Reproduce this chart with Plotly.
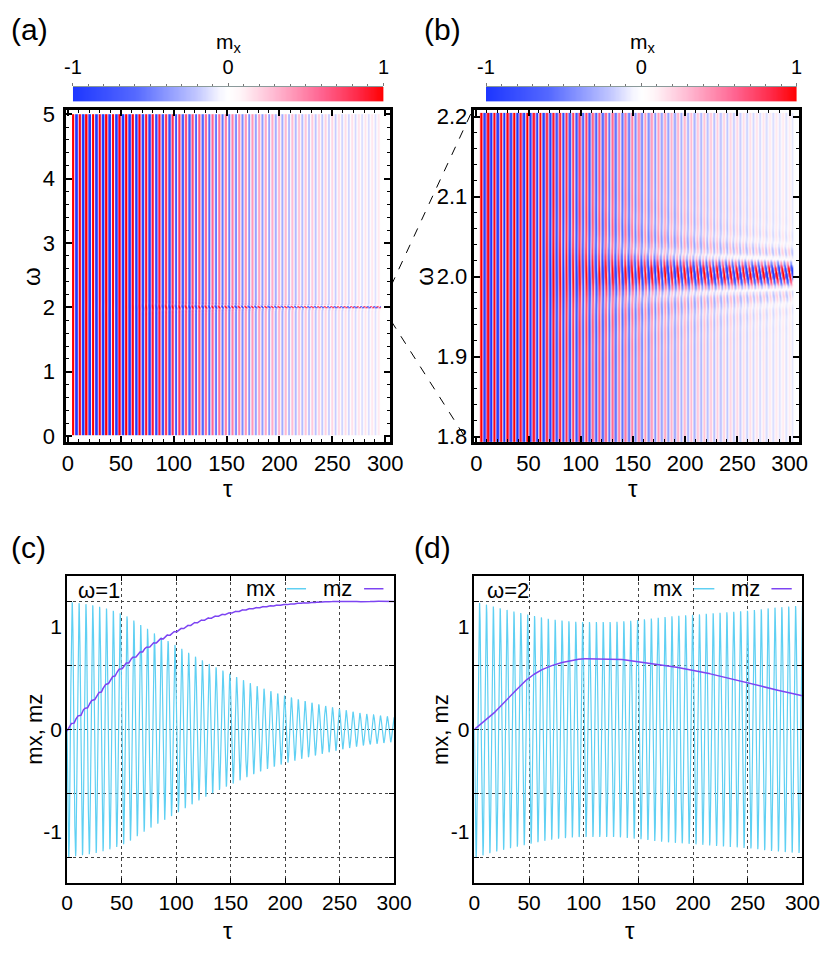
import numpy as np
import plotly.graph_objects as go

W, H = 832, 955
FONT = "Liberation Sans, Arial, Helvetica, sans-serif"

# ---------------- data ----------------
TAU_KNOTS = [0, 25, 50, 75, 100, 125, 150, 175, 200, 225, 250, 275, 300]
# panel (c): omega = 1
MX_ENV_W1 = [1.25, 1.21, 1.13, 0.97, 0.82, 0.67, 0.54, 0.42, 0.33, 0.26, 0.20, 0.15, 0.12]
MZ_W1 = [0.00, 0.30, 0.60, 0.81, 0.96, 1.07, 1.14, 1.19, 1.22, 1.24, 1.25, 1.25, 1.25]
MZ_RIPPLE_W1 = 0.015
# panel (d): omega = 2
MX_ENV_W2 = [1.25, 1.18, 1.12, 1.07, 1.05, 1.05, 1.07, 1.10, 1.12, 1.14, 1.16, 1.19, 1.21]
MZ_W2_TAU = [0, 15, 25, 35, 50, 62, 74, 85, 100, 125, 150, 175, 200, 225, 250, 275, 300]
MZ_W2 = [0.00, 0.13, 0.24, 0.35, 0.505, 0.585, 0.635, 0.665, 0.69, 0.69, 0.66, 0.625, 0.58, 0.52, 0.45, 0.39, 0.33]
CARRIER_FREQ = 1.0      # oscillation of mx in tau (period ~ 2*pi)
OMEGA_RES = 2.004       # resonance line in the maps
PHASE_TILT = 0.5        # stripe tilt inside the resonance band
FRINGE_DAMP = 40.0      # damping of the side fringes of the resonance band

# heat-map extents
MAP_A_TAU = (4.0, 296.0)
MAP_A_OMEGA = (0.02, 4.99)
MAP_B_TAU = (3.0, 303.0)
MAP_B_OMEGA = (1.79, 2.205)

# tick values / labels
TAU_TICKS = [0, 50, 100, 150, 200, 250, 300]
OMEGA_TICKS_B = [1.8, 1.9, 2.0, 2.1, 2.2]
OMEGA_TICKTEXT_B = ["1.8", "1.9", "2.0", "2.1", "2.2"]
MXZ_GRID = [-1.25, -0.625, 0, 0.625, 1.25]
MXZ_LABELS = [-1, 0, 1]
MXZ_LABEL_TEXT = ["-1", "0", "1"]
CB_TICKS = [-1, 0, 1]
CB_TICK_TEXT = ["-1", "0", "1"]

COLORSCALE = [
    [0.00, "rgb(30,55,255)"],
    [0.20, "rgb(85,105,255)"],
    [0.40, "rgb(195,200,255)"],
    [0.47, "rgb(245,245,255)"],
    [0.50, "rgb(255,255,255)"],
    [0.54, "rgb(255,245,248)"],
    [0.65, "rgb(255,185,210)"],
    [0.80, "rgb(255,100,145)"],
    [0.92, "rgb(255,40,70)"],
    [1.00, "rgb(255,0,0)"],
]
MX_COLOR = "#5fd0f3"
MZ_COLOR = "#7d44f2"


# ---------------- helpers ----------------
def pchip(xk, yk, x):
    xk = np.asarray(xk, float)
    yk = np.asarray(yk, float)
    h = np.diff(xk)
    d = np.diff(yk) / h
    m = np.zeros_like(yk)
    m[0], m[-1] = d[0], d[-1]
    for k in range(1, len(xk) - 1):
        if d[k - 1] * d[k] > 0:
            w1 = 2 * h[k] + h[k - 1]
            w2 = h[k] + 2 * h[k - 1]
            m[k] = (w1 + w2) / (w1 / d[k - 1] + w2 / d[k])
        else:
            m[k] = 0.0
    x = np.asarray(x, float)
    idx = np.clip(np.searchsorted(xk, x) - 1, 0, len(xk) - 2)
    t = (x - xk[idx]) / h[idx]
    h00 = 2 * t**3 - 3 * t**2 + 1
    h10 = t**3 - 2 * t**2 + t
    h01 = -2 * t**3 + 3 * t**2
    h11 = t**3 - t**2
    return h00 * yk[idx] + h10 * h[idx] * m[idx] + h01 * yk[idx + 1] + h11 * h[idx] * m[idx + 1]


def field(tau, om):
    T, O = np.meshgrid(tau, om)
    E = pchip(TAU_KNOTS, MX_ENV_W1, tau)[None, :]
    D = pchip(TAU_KNOTS, MX_ENV_W2, tau)[None, :]
    delta = O - OMEGA_RES
    x = delta * T / 2
    S = np.sinc(x / np.pi) * np.exp(-x**2 / FRINGE_DAMP)
    z = -(E * np.sin(CARRIER_FREQ * T)
          + (D - E) * S * np.sin(CARRIER_FREQ * T + PHASE_TILT * delta * T))
    return z.astype(np.float32)


def fx(px):
    return px / W


def fy(py):
    return 1 - py / H


def merge(*ds, **kw):
    out = {}
    for d in ds:
        out.update(d)
    out.update(kw)
    return out


# ---------------- build data ----------------
tau_line = np.arange(0, 300.0001, 0.05)
env1 = pchip(TAU_KNOTS, MX_ENV_W1, tau_line)
env2 = pchip(TAU_KNOTS, MX_ENV_W2, tau_line)
mx1 = -env1 * np.sin(CARRIER_FREQ * tau_line)
mx2 = -env2 * np.sin(CARRIER_FREQ * tau_line)
mz1 = pchip(TAU_KNOTS, MZ_W1, tau_line) - MZ_RIPPLE_W1 * (env1 / 1.25) * np.cos(CARRIER_FREQ * tau_line)
mz1[0] = 0.0
mz2 = pchip(MZ_W2_TAU, MZ_W2, tau_line)

tau_a = np.arange(MAP_A_TAU[0], MAP_A_TAU[1] + 1e-9, 0.3)
om_a = np.concatenate([
    np.arange(MAP_A_OMEGA[0], 1.85, 0.02),
    np.arange(1.85, 2.15, 0.002),
    np.arange(2.15, MAP_A_OMEGA[1] + 1e-9, 0.02),
])
z_a = field(tau_a, om_a)

tau_b = np.arange(MAP_B_TAU[0], MAP_B_TAU[1] + 1e-9, 0.3)
om_b = np.arange(MAP_B_OMEGA[0], MAP_B_OMEGA[1] + 1e-9, 0.0015)
z_b = field(tau_b, om_b)

cb_vals = np.linspace(-1, 1, 256)

# ---------------- figure ----------------
fig = go.Figure()
fig.add_trace(go.Heatmap(x=tau_a, y=om_a, z=z_a, zmin=-1, zmax=1, colorscale=COLORSCALE,
                         showscale=False, zsmooth="best", xaxis="x", yaxis="y", hoverinfo="skip"))
fig.add_trace(go.Heatmap(x=tau_b, y=om_b, z=z_b, zmin=-1, zmax=1, colorscale=COLORSCALE,
                         showscale=False, zsmooth="best", xaxis="x2", yaxis="y2", hoverinfo="skip"))
for xa, ya in (("x5", "y5"), ("x6", "y6")):
    fig.add_trace(go.Heatmap(x=cb_vals, y=[0], z=[cb_vals], zmin=-1, zmax=1, colorscale=COLORSCALE,
                             showscale=False, zsmooth="best", xaxis=xa, yaxis=ya, hoverinfo="skip"))

fig.add_trace(go.Scatter(x=tau_line, y=mx1, mode="lines", line=dict(color=MX_COLOR, width=1.2),
                         xaxis="x3", yaxis="y3", showlegend=False))
fig.add_trace(go.Scatter(x=tau_line, y=mz1, mode="lines", line=dict(color=MZ_COLOR, width=1.5),
                         xaxis="x3", yaxis="y3", showlegend=False))
fig.add_trace(go.Scatter(x=tau_line, y=mx2, mode="lines", line=dict(color=MX_COLOR, width=1.2),
                         xaxis="x4", yaxis="y4", showlegend=False))
fig.add_trace(go.Scatter(x=tau_line, y=mz2, mode="lines", line=dict(color=MZ_COLOR, width=1.5),
                         xaxis="x4", yaxis="y4", showlegend=False))
# carriers for the label-only overlay axes
fig.add_trace(go.Scatter(x=[None], y=[None], xaxis="x3", yaxis="y7", showlegend=False))
fig.add_trace(go.Scatter(x=[None], y=[None], xaxis="x4", yaxis="y8", showlegend=False))

# domains in pixels
A_X, B_X, AB_Y = (59, 394), (481, 816), (104, 441)
C_X, D_X, CD_Y = (60, 398), (481, 820), (577, 889)
CBA_X, CBB_X, CB_Y = (66, 387), (493, 814), (80, 95)


def dx(p):
    return [fx(p[0]), fx(p[1])]


def dy(p):
    return [fy(p[1]), fy(p[0])]


map_axis = dict(showline=True, linecolor="black", linewidth=2.5, mirror="ticks",
                ticks="inside", ticklen=6, tickwidth=1.5, tickcolor="black",
                showgrid=False, zeroline=False,
                tickfont=dict(size=22, family=FONT, color="black"))
map_minor = dict(ticks="inside", ticklen=3, tickwidth=1.2, tickcolor="black")

line_axis = dict(showline=True, linecolor="black", linewidth=1.8, mirror="ticks",
                 ticks="inside", ticklen=5, tickwidth=1, tickcolor="black",
                 zeroline=False, tickfont=dict(size=21, family=FONT, color="black"),
                 showgrid=True, gridcolor="#444444", gridwidth=0.8, griddash="dot")

label_axis = dict(side="left", range=[-1.5, 1.5], showgrid=False, zeroline=False, showline=False,
                  ticks="", tickmode="array", tickvals=MXZ_LABELS, ticktext=MXZ_LABEL_TEXT,
                  ticklabelstandoff=4, tickfont=dict(size=21, family=FONT, color="black"))

layout = dict(
    width=W, height=H, autosize=False, margin=dict(l=0, r=0, t=0, b=0),
    paper_bgcolor="white", plot_bgcolor="white", showlegend=False,
    xaxis=merge(map_axis, domain=dx(A_X), anchor="y", range=[-1.8, 304.7],
                tickmode="linear", tick0=0, dtick=50,
                minor=merge(map_minor, dtick=10, tick0=0)),
    yaxis=merge(map_axis, domain=dy(AB_Y), anchor="x", range=[-0.092, 5.06],
                tickmode="linear", tick0=0, dtick=1, ticklabelstandoff=4,
                minor=merge(map_minor, dtick=0.2, tick0=0)),
    xaxis2=merge(map_axis, domain=dx(B_X), anchor="y2", range=[-1.85, 308.6],
                 tickmode="linear", tick0=0, dtick=50,
                 minor=merge(map_minor, dtick=10, tick0=0)),
    yaxis2=merge(map_axis, domain=dy(AB_Y), anchor="x2", range=[1.7934, 2.2079],
                 tickmode="array", tickvals=OMEGA_TICKS_B, ticktext=OMEGA_TICKTEXT_B,
                 minor=merge(map_minor, dtick=0.02, tick0=1.8)),
    xaxis3=merge(line_axis, domain=dx(C_X), anchor="y3", range=[0, 300],
                 tickmode="array", tickvals=TAU_TICKS),
    yaxis3=merge(line_axis, domain=dy(CD_Y), anchor="x3", range=[-1.5, 1.5],
                 tickmode="array", tickvals=MXZ_GRID, showticklabels=False),
    xaxis4=merge(line_axis, domain=dx(D_X), anchor="y4", range=[0, 300],
                 tickmode="array", tickvals=TAU_TICKS),
    yaxis4=merge(line_axis, domain=dy(CD_Y), anchor="x4", range=[-1.5, 1.5],
                 tickmode="array", tickvals=MXZ_GRID, showticklabels=False),
    yaxis7=merge(label_axis, overlaying="y3", anchor="x3"),
    yaxis8=merge(label_axis, overlaying="y4", anchor="x4"),
)

for xa, ya, xd in (("xaxis5", "yaxis5", CBA_X), ("xaxis6", "yaxis6", CBB_X)):
    n = xa[-1]
    layout[xa] = dict(domain=dx(xd), anchor="y" + n, side="top", range=[-1, 1],
                      tickmode="array", tickvals=CB_TICKS, ticktext=CB_TICK_TEXT,
                      ticks="outside", ticklen=3, tickwidth=1, tickcolor="#777777",
                      showline=True, linecolor="#8a9a9a", linewidth=1, showgrid=False, zeroline=False,
                      ticklabelstandoff=1,
                      minor=dict(ticks="outside", ticklen=2, tickwidth=1, tickcolor="#777777", dtick=0.1, tick0=-1),
                      tickfont=dict(size=20, family=FONT, color="black"))
    layout[ya] = dict(domain=dy(CB_Y), anchor="x" + n, range=[-0.5, 0.5], visible=False)

fig.update_layout(**layout)


def txt(x, y, s, size, xanchor="center", angle=0):
    return dict(x=fx(x), y=fy(y), xref="paper", yref="paper", text=s, showarrow=False,
                font=dict(size=size, family=FONT, color="black"),
                xanchor=xanchor, yanchor="middle", textangle=angle)


ann = [
    txt(0, 22, "(a)", 30, "left"),
    txt(427, 22, "(b)", 30, "left"),
    txt(0, 548, "(c)", 30, "left"),
    txt(416, 548, "(d)", 30, "left"),
    txt(227, 36, "m<sub>x</sub>", 21),
    txt(655, 36, "m<sub>x</sub>", 21),
    txt(23, 273, "ω", 24, angle=-90),
    txt(226, 488, "τ", 24),
    txt(430, 273, "ω", 24, angle=-90),
    txt(645, 488, "τ", 24),
    txt(26, 733, "mx, mz", 22, angle=-90),
    txt(226, 937, "τ", 24),
    txt(446, 733, "mx, mz", 22, angle=-90),
    txt(642, 937, "τ", 24),
    txt(69, 592, "ω=1", 22, "left"),
    txt(277, 590, "mx", 22, "right"),
    txt(357, 590, "mz", 22, "right"),
    txt(492, 592, "ω=2", 22, "left"),
    txt(698, 590, "mx", 22, "right"),
    txt(778, 590, "mz", 22, "right"),
]

shapes = [
    dict(type="line", xref="paper", yref="paper", x0=fx(395), y0=fy(282), x1=fx(478), y1=fy(106),
         line=dict(color="black", width=1, dash="dash")),
    dict(type="line", xref="paper", yref="paper", x0=fx(395), y0=fy(318), x1=fx(474), y1=fy(440),
         line=dict(color="black", width=1, dash="dash")),
]
for x0, x1, col in ((287, 307, MX_COLOR), (367, 387, MZ_COLOR),
                    (708, 729, MX_COLOR), (788, 809, MZ_COLOR)):
    shapes.append(dict(type="line", xref="paper", yref="paper", x0=fx(x0), x1=fx(x1),
                       y0=fy(590), y1=fy(590), line=dict(color=col, width=1.5)))

fig.update_layout(annotations=ann, shapes=shapes)
fig.write_html("out.html", config={"displayModeBar": False},
               post_script="document.body.style.margin='0px';document.body.style.overflow='hidden';")
